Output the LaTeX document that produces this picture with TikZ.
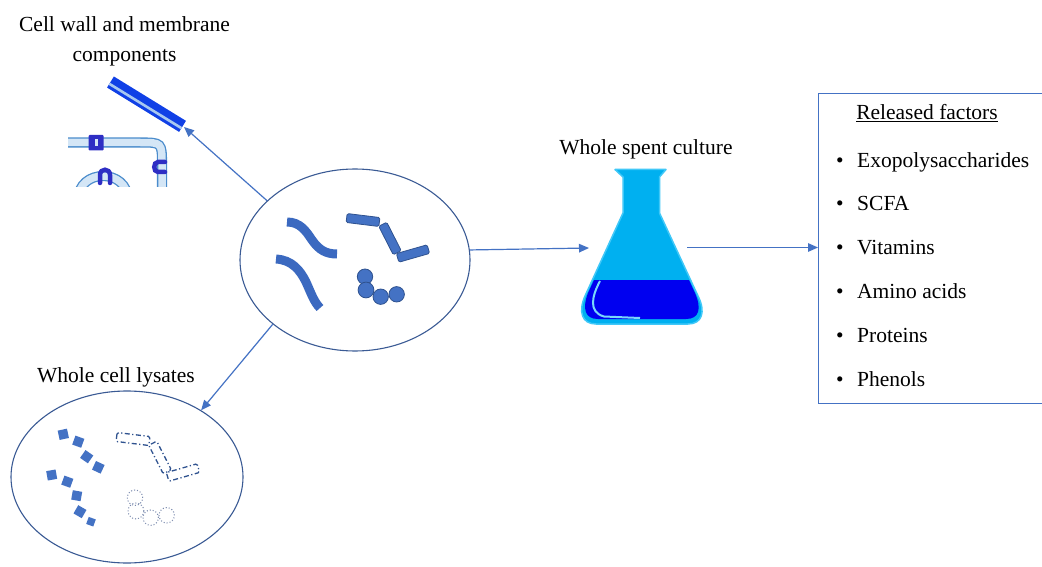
\documentclass[tikz,border=0pt]{standalone}
\usepackage{fontspec}
\setmainfont{Liberation Serif}
\usetikzlibrary{arrows.meta,shapes.geometric}
\definecolor{arrowblue}{HTML}{4472C4}
\definecolor{darkrim}{HTML}{2F528F}
\definecolor{ellrim}{HTML}{3A5A94}
\definecolor{wormblue}{HTML}{3B69C0}
\definecolor{wallblue}{HTML}{1040E6}
\definecolor{wallstripe}{HTML}{A8C8F0}
\definecolor{membedge}{HTML}{4A8CCC}
\definecolor{membfill}{HTML}{D4E6F6}
\definecolor{protein}{HTML}{2E2EC4}
\definecolor{flaskcyan}{HTML}{00B0F0}
\definecolor{flaskrim}{HTML}{40C8F8}
\definecolor{liquid}{HTML}{0000F0}
\definecolor{dotgray}{HTML}{7A8AAE}
\tikzset{
 lbl/.style={font=\fontsize{21.5}{30}\selectfont, text=black, inner sep=0pt},
 arr/.style={draw=arrowblue, line width=1.2pt, -{Triangle[length=10pt,width=8.5pt]}},
 cellell/.style={ellipse, draw=ellrim, line width=1.1pt, inner sep=0pt},
 worm/.style={draw=wormblue, line width=9pt},
 rodbox/.style={fill=arrowblue, draw=darkrim, line width=0.8pt, rounded corners=1.5pt},
 coccus/.style={fill=arrowblue, draw=darkrim, line width=0.8pt},
 ghostrod/.style={draw=darkrim, line width=1.3pt, dash pattern=on 5pt off 2.5pt on 1.2pt off 2.5pt, rounded corners=1.5pt},
 ghostcoccus/.style={draw=dotgray, line width=1pt, dotted},
 frag/.style={fill=arrowblue, minimum size=9.5pt, inner sep=0pt, rectangle},
 memb/.style={draw=membedge, line width=1.3pt, double=membfill, double distance=7.5pt},
 prot/.style={draw=protein, line width=4.5pt, line cap=round},
 boxframe/.style={draw=arrowblue, line width=1.2pt, inner sep=0pt},
}
\newcommand\myrodchain[3]{%
 \begin{scope}[shift={(#1,#2)}]
  \begin{scope}[shift={(363,220)},rotate=-7]\path[#3] (-16.5,-4.5) rectangle (16.5,4.5);\end{scope}
  \begin{scope}[shift={(390,238.5)},rotate=-63]\path[#3] (-16,-4.5) rectangle (16,4.5);\end{scope}
  \begin{scope}[shift={(413,253.5)},rotate=16]\path[#3] (-16,-4.5) rectangle (16,4.5);\end{scope}
 \end{scope}}
\newcommand\mycoccichain[3]{%
 \begin{scope}[shift={(#1,#2)}]
  \path[#3] (365,276.7) circle[radius=7.7pt];
  \path[#3] (366,290) circle[radius=7.9pt];
  \path[#3] (380.7,296.7) circle[radius=7.7pt];
  \path[#3] (396.7,294.3) circle[radius=7.7pt];
 \end{scope}}
\begin{document}
\begin{tikzpicture}[x=1pt,y=-1pt]
\useasboundingbox (0,0) rectangle (1042,567);
\clip (0,0) rectangle (1042,567);
\fill[white] (0,0) rectangle (1042,567);

% ---- labels ----
\node[lbl, align=center, anchor=base] (walltxt) at (124.5,62) {Cell wall and membrane\\components};
\node[lbl, anchor=base] (flasktxt) at (646,155) {Whole spent culture};
\node[lbl, anchor=base] (lystxt) at (116,382) {Whole cell lysates};

% ---- released factors box ----
\node[boxframe, anchor=north west, minimum width=260pt, minimum height=310pt] (box) at (818,93) {};
\node[lbl, anchor=base] (reltxt) at (927,119.5) {\underline{Released factors}};
\node[lbl, anchor=base] (b1) at (840,167.5) {\textbullet};
\node[lbl, anchor=base west] (i1) at (857,167.5) {Exopolysaccharides};
\node[lbl, anchor=base] (b2) at (840,211) {\textbullet};
\node[lbl, anchor=base west] (i2) at (857,211) {SCFA};
\node[lbl, anchor=base] (b3) at (840,254.5) {\textbullet};
\node[lbl, anchor=base west] (i3) at (857,254.5) {Vitamins};
\node[lbl, anchor=base] (b4) at (840,298) {\textbullet};
\node[lbl, anchor=base west] (i4) at (857,298) {Amino acids};
\node[lbl, anchor=base] (b5) at (840,342) {\textbullet};
\node[lbl, anchor=base west] (i5) at (857,342) {Proteins};
\node[lbl, anchor=base] (b6) at (840,386.5) {\textbullet};
\node[lbl, anchor=base west] (i6) at (857,386.5) {Phenols};

% ---- cell wall rod ----
\begin{scope}[shift={(146.5,104.2)}, rotate=-31.6]
 \fill[wallblue] (-42.3,-6.5) rectangle (42.3,6.5);
 \fill[wallstripe] (-42.3,0.8) rectangle (42.3,3.4);
\end{scope}

% ---- membrane fragment ----
\begin{scope}
 \clip (68,128) rectangle (171,186.5);
 \draw[memb] (60,142.5) -- (140,142.5) .. controls (162,142.5) .. (162,165) -- (162,195);
 \draw[memb] (78,200) .. controls (78,168) and (128,168) .. (128,200);
 \fill[protein, rounded corners=1pt] (88.5,135) rectangle (103.5,150.5);
 \fill[membfill] (94.5,139.5) rectangle (97.5,146);
 \draw[prot] (165,162) -- (158,162) .. controls (153,162) and (153,172) .. (158,172) -- (165,172);
 \draw[prot] (100,183) -- (100,175) .. controls (100,168) and (110,168) .. (110,175) -- (110,183);
\end{scope}

% ---- central culture ----
\node[cellell, minimum width=230pt, minimum height=182pt] (cells) at (355,260) {};
\draw[worm] (287,222) .. controls (300,222) and (306,231) .. (312,240) .. controls (319,250) and (326,254) .. (337,254);
\draw[worm] (276,259) .. controls (292,260) and (300,270) .. (306,282) .. controls (311,293) and (314,302) .. (320,308);
\myrodchain{0}{0}{rodbox}
\mycoccichain{0}{0}{coccus}

% ---- lysate ----
\node[cellell, minimum width=232pt, minimum height=172pt] (lys) at (127,477) {};
\node[frag, rotate=12] (s1) at (63.3,434.3) {};
\node[frag, rotate=-20] (s2) at (78.3,441.7) {};
\node[frag, rotate=-35] (s3) at (86.7,456.7) {};
\node[frag, rotate=-25] (s4) at (98.3,467.3) {};
\node[frag, rotate=10] (s5) at (51.7,475) {};
\node[frag, rotate=-20] (s6) at (67.3,481.7) {};
\node[frag, rotate=-10] (s7) at (76.7,495.7) {};
\node[frag, rotate=-30] (s8) at (80,511.7) {};
\node[frag, rotate=-20, minimum size=7.5pt] (s9) at (91,521.7) {};
\myrodchain{-230}{219}{ghostrod}
\mycoccichain{-230}{221}{ghostcoccus}

% ---- flask ----
\path[fill=flaskcyan, draw=flaskrim, line width=1.5pt, line join=round]
 (615,169.5) -- (666,169.5) -- (659.5,177) -- (659.5,213) -- (698,296)
 .. controls (706,312) and (702,324) .. (688,324) -- (596,324)
 .. controls (582,324) and (578,312) .. (585,296) -- (623,213) -- (623,177) -- cycle;
\path[fill=liquid] (594,280) -- (689,280) -- (695,293) .. controls (702,309) and (699,319) .. (686,319)
 -- (598,319) .. controls (585,319) and (582,309) .. (588,293) -- cycle;
\draw[flaskrim!70!white, line width=2pt] (600,281) .. controls (592,296) and (588,312) .. (604,316.5) -- (640,318);
\coordinate (flaskin) at (589,248);
\coordinate (flaskout) at (687,247.5);

% ---- connectors ----
\coordinate (wallend) at (184,127);
\draw[arr] (cells.146) -- (wallend);
\draw[arr] (cells.5) -- (flaskin);
\draw[arr] (cells.218) -- (lys.42);
\draw[arr] (flaskout) -- (flaskout -| box.west);
\end{tikzpicture}
\end{document}
